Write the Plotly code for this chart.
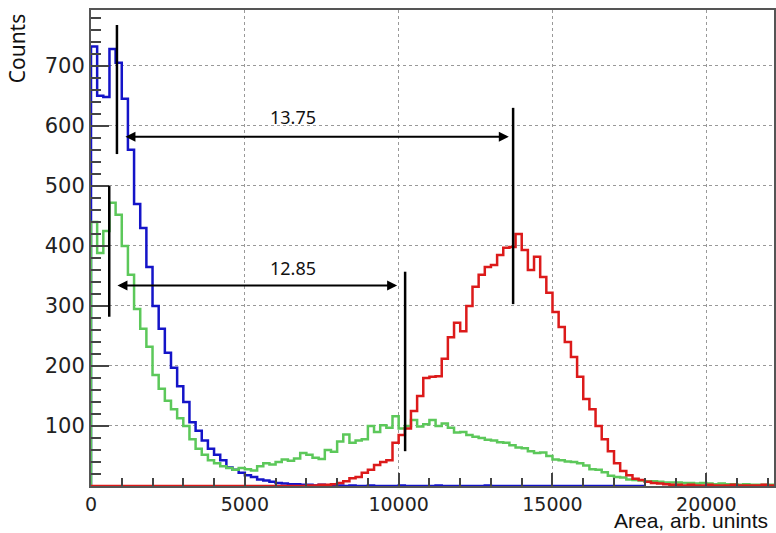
import numpy as np
import plotly.graph_objects as go

BIN_WIDTH = 200  # arb. units

# Histogram bin contents (bins start at 0, width BIN_WIDTH)
blue_counts = [
    732, 650, 648, 728, 705, 645, 560, 470, 430, 365,
    300, 262, 222, 197, 166, 140, 106, 92, 76, 62,
    52, 43, 31, 27, 22, 18, 15, 11, 9, 7,
    5, 4, 3, 3, 2, 2, 1, 2, 1, 1,
    1, 0, 1, 0, 0, 1, 0, 0, 0, 0,
    1, 0, 0, 0, 0, 0, 1, 0, 0, 0,
    0, 0, 0, 0, 1, 0, 0, 0, 0, 0,
    0, 0, 0, 0, 0, 0, 0, 0, 0, 0,
    0, 0, 0, 0, 0, 0, 0, 0, 0, 0,
]

green_counts = [
    440, 388, 425, 472, 452, 400, 352, 295, 262, 232,
    185, 162, 142, 128, 113, 100, 78, 62, 52, 43,
    38, 33, 30, 27, 30, 28, 26, 33, 38, 36,
    40, 44, 42, 46, 55, 52, 47, 45, 60, 57,
    74, 86, 72, 76, 78, 100, 90, 101, 97, 116,
    96, 100, 110, 99, 103, 110, 100, 104, 97, 89,
    90, 85, 82, 80, 77, 76, 73, 72, 68, 64,
    63, 58, 55, 56, 50, 44, 43, 41, 40, 38,
    34, 28, 27, 23, 17, 15, 14, 11, 10, 9,
    8, 8, 7, 6, 6, 6, 5, 5, 4, 5,
    4, 3, 4, 3, 3, 2, 3, 2, 2, 2,
    2,
]

red_counts = [0] * 35 + [
    1, 1, 2, 2, 3,
    5, 8, 13, 15, 22,
    27, 35, 40, 43, 72,
    85, 96, 125, 150, 180,
    182, 183, 212, 248, 272,
    258, 300, 332, 352, 365,
    368, 385, 397, 398, 420,
    393, 360, 382, 348, 322,
    290, 265, 240, 215, 182,
    145, 128, 100, 78, 58,
    38, 25, 18, 12, 10,
    7, 5, 4, 3, 2,
    2,
    1, 2, 1, 1, 2, 1, 1, 1, 2, 1, 1, 1, 1, 2, 1,
]

# Annotation markers (x in arb. units, y in counts)
marker_lines = [
    (843, 553, 768),
    (13720, 303, 630),
    (593, 282, 500),
    (10210, 58, 357),
]
arrows = [  # (x_start, x_end, y, label, label_x, label_y)
    (1070, 13580, 582, "13.75", 6580, 615),
    (810, 9950, 334, "12.85", 6550, 363),
]

x_ticks = [0, 5000, 10000, 15000, 20000]
y_ticks = [100, 200, 300, 400, 500, 600, 700]


def step_xy(counts):
    edges = np.arange(len(counts) + 1) * BIN_WIDTH
    xs = [0.0] + list(edges)
    ys = [0.0] + list(counts) + [counts[-1]]
    return xs, ys


fig = go.Figure()
for counts, color in [(blue_counts, "#1414c8"), (green_counts, "#5cc85a"), (red_counts, "#dc1a1a")]:
    xs, ys = step_xy(counts)
    fig.add_trace(go.Scatter(x=xs, y=ys, mode="lines", line=dict(color=color, width=2.5, shape="hv"),
                             hoverinfo="skip", showlegend=False))

for x, y0, y1 in marker_lines:
    fig.add_shape(type="line", x0=x, x1=x, y0=y0, y1=y1, xref="x", yref="y",
                  line=dict(color="black", width=2.5))

for xs_, xe_, y, label, lx, ly in arrows:
    fig.add_annotation(x=xe_, y=y, ax=xs_, ay=y, xref="x", yref="y", axref="x", ayref="y",
                       text="", showarrow=True, arrowhead=2, arrowside="end+start",
                       arrowsize=1, arrowwidth=2, arrowcolor="black", standoff=0, startstandoff=0)
    fig.add_annotation(x=lx, y=ly, xref="x", yref="y", text=label, showarrow=False,
                       font=dict(family="Noto Sans", size=18, color="#111"))

fig.add_annotation(x=-0.108, y=0.92, xref="paper", yref="paper", text="Counts", textangle=-90,
                   showarrow=False, xanchor="center", yanchor="middle",
                   font=dict(family="Noto Sans", size=21, color="#111"))
fig.add_annotation(x=0.993, y=-0.0985, xref="paper", yref="paper", text="Area, arb. unints",
                   showarrow=False, xanchor="right", yanchor="bottom", borderpad=0,
                   font=dict(family="Liberation Sans", size=21, color="#111"))

fig.update_layout(
    width=776, height=533,
    margin=dict(l=91, r=0, t=10, b=47),
    paper_bgcolor="white", plot_bgcolor="white",
    showlegend=False,
)
fig.update_xaxes(
    range=[0, 22200], tickmode="array", tickvals=x_ticks, ticktext=[str(v) for v in x_ticks],
    ticks="inside", ticklen=13, tickwidth=1.5, tickcolor="#444",
    showline=True, linecolor="#555", linewidth=2, mirror=True,
    showgrid=True, gridcolor="#999", griddash="dot", gridwidth=1, zeroline=False,
    tickfont=dict(family="DejaVu Sans", size=19, color="#222"),
    minor=dict(tickmode="linear", tick0=0, dtick=1000, ticks="inside", ticklen=8,
               tickwidth=1.5, tickcolor="#444", showgrid=False),
)
fig.update_yaxes(
    range=[0, 793], tickmode="array", tickvals=y_ticks, ticktext=[str(v) for v in y_ticks],
    ticks="inside", ticklen=18, tickwidth=1.5, tickcolor="#444",
    showline=True, linecolor="#555", linewidth=2, mirror=True,
    showgrid=True, gridcolor="#999", griddash="dot", gridwidth=1, zeroline=False,
    tickfont=dict(family="DejaVu Sans", size=21, color="#222"),
    minor=dict(tickmode="linear", tick0=0, dtick=20, ticks="inside", ticklen=10,
               tickwidth=1.5, tickcolor="#444", showgrid=False),
)

fig.write_html("out.html")
